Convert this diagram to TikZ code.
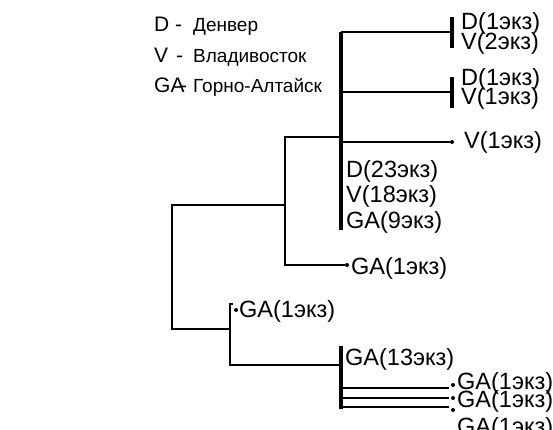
\documentclass[tikz,border=0pt]{standalone}
\usepackage{fontspec}
\setmainfont{Liberation Sans}
\usetikzlibrary{positioning}
\tikzset{
  branch/.style={line width=2pt},
  stem/.style={line width=3.5pt},
  leaf/.style={circle, fill, inner sep=0pt, minimum size=4pt},
  lbl/.style={anchor=base west, inner sep=0pt, font=\fontsize{23.5}{23.5}\selectfont},
  keylbl/.style={anchor=base west, inner sep=0pt, font=\fontsize{21}{21}\selectfont},
  namelbl/.style={anchor=base west, inner sep=0pt, font=\fontsize{19}{19}\selectfont},
}

\begin{document}
\begin{tikzpicture}[x=1pt,y=-1pt]
  \useasboundingbox (0,0) rectangle (553,430);
  % legend
  \foreach \k/\nm/\y/\dx/\i in {D/Денвер/32/175/1, V/Владивосток/63/176/2, GA/Горно-Алтайск/93/180/3} {
    \node[keylbl] (key\i) at (154,\y) {\k};
    \node[keylbl] (dash\i) at (\dx,\y) {-};
    \node[namelbl] (name\i) at (193,\y) {\nm};
  }
  % junctions
  \coordinate (root) at (172,205);
  \coordinate (up) at (285,205);
  \coordinate (low) at (230,329);
  \coordinate (lowtop) at (230,304);
  \coordinate (mtop) at (341,32);
  \coordinate (mjoin) at (341,137);
  \coordinate (mbot) at (341,230);
  \coordinate (gabar) at (341,365);
  \coordinate (gabartop) at (341,346);
  \coordinate (gabarbot) at (341,409);
  % upper clade
  \draw[stem] (mtop) -- (mbot);
  \foreach \i/\y in {1/32, 2/92} {
    \coordinate (dv\i) at (452,\y);
    \draw[branch] (dv\i -| mtop) -- (dv\i);
    \draw[stem] ([yshift=15pt]dv\i) -- ([yshift=-16pt]dv\i);
  }
  \node[lbl] (d1) at (461,30) {D(1экз)};
  \node[lbl] (v2) at (461,50) {V(2экз)};
  \node[lbl] (d1b) at (461,86) {D(1экз)};
  \node[lbl] (v1b) at (461,105) {V(1экз)};
  \node[leaf] (vdot) at (452,142) {};
  \draw[branch] (vdot -| mtop) -- (vdot);
  \node[lbl] (v1c) at (464,149) {V(1экз)};
  \node[lbl] (d23) at (346,178) {D(23экз)};
  \node[lbl] (v18) at (346,203) {V(18экз)};
  \node[lbl] (ga9) at (346,228) {GA(9экз)};
  % single GA
  \node[leaf] (gadot) at (347,265) {};
  \node[lbl] (gaone) at (351,274) {GA(1экз)};
  \draw[branch] (gadot) -| (up) |- (mjoin);
  % root
  \draw[branch] (up) -- (root) |- (low);
  % lower clade
  \node[leaf] (gadotlow) at (236,310) {};
  \node[lbl] (gaonelow) at (239,317) {GA(1экз)};
  \draw[branch] ([xshift=3pt]lowtop) -- (lowtop) |- (gabar);
  \draw[stem] (gabartop) -- (gabarbot);
  \node[lbl] (ga13) at (345,365) {GA(13экз)};
  \foreach \i/\ly/\dy/\ty in {1/388/385/389, 2/398/398/407, 3/407/410/434} {
    \coordinate (gaend\i) at (449,\ly);
    \node[leaf] (gadot\i) at (453,\dy) {};
    \node[lbl] (galbl\i) at (457,\ty) {GA(1экз)};
    \draw[branch] (gaend\i -| gabar) -- (gaend\i);
  }
\end{tikzpicture}
\end{document}
